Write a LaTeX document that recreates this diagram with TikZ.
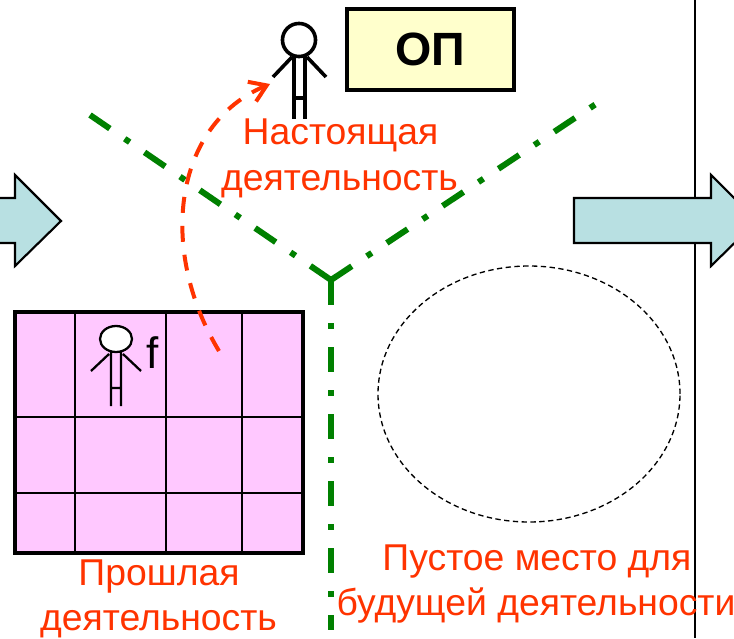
\documentclass[tikz,border=0pt]{standalone}
\usepackage{fontspec}
\setmainfont{Liberation Sans}
\usetikzlibrary{arrows.meta}
\definecolor{labelred}{HTML}{FF3300}
\definecolor{pathgreen}{HTML}{008000}
\definecolor{tablepink}{HTML}{FFC8FF}
\definecolor{boxyellow}{HTML}{FFFFCC}
\definecolor{arrowblue}{HTML}{B8E0E2}
\tikzset{
  lbl/.style={text=labelred,font=\fontsize{28}{33}\selectfont,anchor=base,inner sep=0pt},
  greenline/.style={draw=pathgreen,line width=4.5pt,dash pattern=on 18.75pt off 13.5pt on 4.5pt off 13.5pt},
  bigarrow/.style={draw=black,line width=1.6pt,fill=arrowblue,miter limit=10},
  grid/.style={draw=black,line width=1.2pt},
  manbig/.style={draw=black,line width=2.7pt},
  mansmall/.style={draw=black,line width=1.7pt},
}
\begin{document}
\begin{tikzpicture}[x=0.75pt,y=-0.75pt]
\useasboundingbox (0,0) rectangle (734,638);
\clip (0,0) rectangle (734,638);
% boundary line
\coordinate (vt) at (695,0);
\coordinate (vb) at (695,638);
\draw[black,line width=1.3pt] (vt) -- (vb);
% block arrows
\path[bigarrow] (-40,198) -- (15,198) -- (15,175) -- (61,221) -- (15,266) -- (15,243) -- (-40,243) -- cycle;
\path[bigarrow] (574,198) -- (711,198) -- (711,175) -- (757,221) -- (711,266) -- (711,243) -- (574,243) -- cycle;
% three-way division
\coordinate (ya) at (90,115);
\coordinate (yb) at (596,104);
\coordinate (yc) at (331,280);
\coordinate (yd) at (331,630);
\draw[greenline] (yc) -- (ya);
\draw[greenline] (yc) -- (yb);
\draw[greenline] (yc) -- (yd);
% empty place
\coordinate (ec) at (529,394);
\draw[black,line width=1pt,dash pattern=on 4pt off 2.6pt] (ec) ellipse [x radius=113.25pt,y radius=96pt];
% table
\draw[tablepink,fill=tablepink] (15,312) rectangle (303,553);
\draw[grid] (75,312) -- (75,553) (166,312) -- (166,553) (242,312) -- (242,553)
  (15,417) -- (303,417) (15,493) -- (303,493);
\draw[black,line width=3pt] (15,312) rectangle (303,553);
% small person
\draw[mansmall,fill=white] (116,339) ellipse [x radius=12pt,y radius=9.75pt];
\draw[mansmall] (109,354) -- (91,371) (123,354) -- (141,371)
  (111,352) -- (111,406) (121,352) -- (121,406) (111,388) -- (121,388);
\node[anchor=base west,inner sep=0pt,font=\fontsize{33}{38}\selectfont] (f) at (146,368) {f};
% large person
\draw[manbig,fill=white] (299,40) circle [radius=12.4pt];
\draw[manbig] (292,57) -- (273,77) (307,57) -- (326,77)
  (294,56) -- (294,119) (305,56) -- (305,119) (294,98) -- (305,98);
% OP box
\node[draw=black,fill=boxyellow,line width=3pt,minimum width=125.25pt,minimum height=60.75pt,inner sep=0pt,
  font=\fontsize{35}{40}\selectfont\bfseries] (op) at (430.5,49.5) {ОП};
% curved arrow
\coordinate (cs) at (219,351);
\coordinate (ce) at (270,84);
\draw[labelred,line width=3pt,dash pattern=on 12pt off 9.75pt,-{Straight Barb[length=12pt,width=16pt,line width=3pt]}]
  (cs) .. controls (158,250) and (173,125) .. (ce);
% labels
\node[lbl] (now1) at (340.5,144) {Настоящая};
\node[lbl] (now2) at (339.5,190) {деятельность};
\node[lbl] (past1) at (159,585) {Прошлая};
\node[lbl] (past2) at (158.5,630) {деятельность};
\node[lbl] (fut1) at (537,570) {Пустое место для};
\node[lbl] (fut2) at (536,615) {будущей деятельности};
\end{tikzpicture}
\end{document}
